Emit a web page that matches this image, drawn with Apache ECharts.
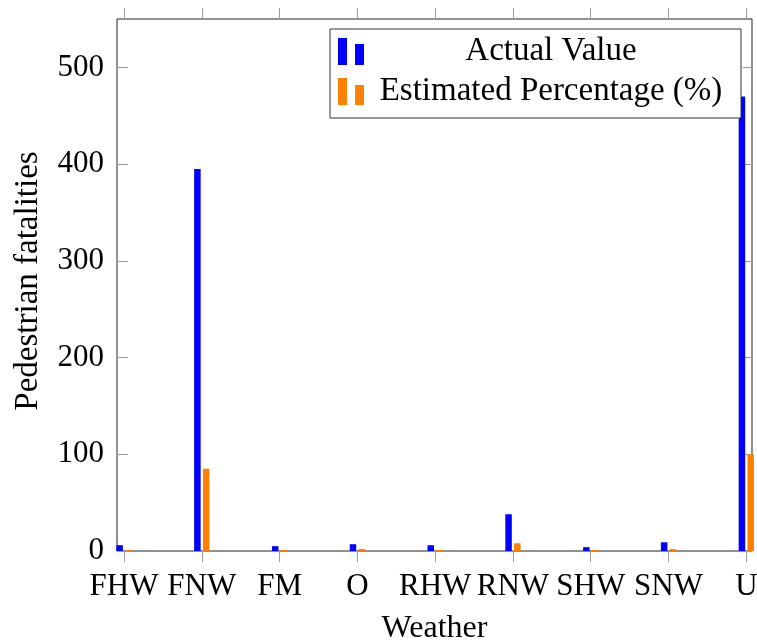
<!DOCTYPE html>
<html>
<head>
<meta charset="utf-8">
<script src="https://cdn.jsdelivr.net/npm/echarts@6/dist/echarts.min.js"></script>
<style>
  html, body { margin: 0; padding: 0; background: #fff; }
  #chart { width: 757px; height: 644px; }
</style>
</head>
<body>
<div id="chart"></div>
<script>
// Weather condition codes along the x axis
const categories = ['FHW', 'FNW', 'FM', 'O', 'RHW', 'RNW', 'SHW', 'SNW', 'U'];
// Pedestrian fatalities per weather condition
const actualValue = [6, 395, 5, 7, 6, 38, 4, 9, 470];
// Estimated percentage per weather condition
const estimatedPct = [1, 85, 1, 2, 1, 8, 1, 2, 100];
// Labelled ticks on the y axis
const yTickValues = [0, 100, 200, 300, 400, 500];
const xTickValues = categories.map((_, i) => i);

const FONT = 'Liberation Serif';
const tickColor = '#9a9a9a';

const chart = echarts.init(document.getElementById('chart'), null, { renderer: 'canvas' });

const hiddenLine = { show: false, onZero: false };

chart.setOption({
  animation: false,
  backgroundColor: '#fff',
  textStyle: { fontFamily: FONT },
  grid: {
    left: 117, right: 5, top: 19, bottom: 93,
    outerBoundsMode: 'none', containLabel: false,
    show: true, borderColor: '#222', borderWidth: 1, backgroundColor: 'transparent'
  },
  legend: {
    orient: 'vertical',
    left: 330, top: 29,
    selectedMode: false,
    backgroundColor: '#fff',
    borderColor: '#333', borderWidth: 1, borderRadius: 0,
    padding: [6, 8, 10, 8],
    itemWidth: 26, itemHeight: 27, itemGap: 7,
    data: [
      { name: 'Actual Value', icon: 'path://M0,0h9v27h-9z M17,6h9v21h-9z' },
      { name: 'Estimated Percentage (%)', icon: 'path://M0,0h9v27h-9z M17,7h9v20h-9z' }
    ],
    formatter: name => '{c|' + name + '}',
    textStyle: {
      fontFamily: FONT, fontSize: 33, color: '#000', lineHeight: 31,
      rich: { c: { width: 364, align: 'center', fontFamily: FONT, fontSize: 33, color: '#000', lineHeight: 31 } }
    }
  },
  xAxis: [
    {
      type: 'value', position: 'bottom',
      min: -0.09, max: 8.073,
      axisLine: hiddenLine, splitLine: { show: false },
      axisTick: { show: true, inside: false, length: 11, customValues: xTickValues, lineStyle: { color: tickColor } },
      axisLabel: {
        show: true, customValues: xTickValues, margin: 20,
        formatter: v => categories[Math.round(v)] || '',
        fontFamily: FONT, fontSize: 31, color: '#000'
      },
      name: 'Weather', nameLocation: 'middle', nameGap: 62,
      nameTextStyle: { fontFamily: FONT, fontSize: 32, color: '#000' }
    },
    {
      type: 'value', position: 'top',
      min: -0.09, max: 8.073,
      axisLine: hiddenLine, splitLine: { show: false },
      axisTick: { show: true, inside: false, length: 11, customValues: xTickValues, lineStyle: { color: tickColor } },
      axisLabel: { show: false }
    }
  ],
  yAxis: [
    {
      type: 'value', position: 'left',
      min: 0, max: 550,
      axisLine: hiddenLine, splitLine: { show: false },
      axisTick: { show: true, inside: true, length: 11, customValues: yTickValues, lineStyle: { color: tickColor } },
      axisLabel: {
        show: true, customValues: yTickValues, margin: 13,
        fontFamily: FONT, fontSize: 31, color: '#000'
      },
      name: 'Pedestrian fatalities', nameLocation: 'middle', nameGap: 72,
      nameTextStyle: { fontFamily: FONT, fontSize: 33, color: '#000', padding: [0, 0, 0, 8] }
    },
    {
      type: 'value', position: 'right',
      min: 0, max: 550,
      axisLine: hiddenLine, splitLine: { show: false },
      axisTick: { show: true, inside: true, length: 9, customValues: yTickValues, lineStyle: { color: tickColor } },
      axisLabel: { show: false }
    }
  ],
  series: [
    {
      name: 'Actual Value', type: 'bar',
      xAxisIndex: 0, yAxisIndex: 0,
      barWidth: 6.5, barGap: '35%', clip: false,
      itemStyle: { color: '#0000ff' },
      data: actualValue.map((v, i) => [i, v])
    },
    {
      name: 'Estimated Percentage (%)', type: 'bar',
      xAxisIndex: 0, yAxisIndex: 0,
      barWidth: 6.5, barGap: '35%', clip: false,
      itemStyle: { color: '#ff8000' },
      data: estimatedPct.map((v, i) => [i, v])
    }
  ]
});
</script>
</body>
</html>
